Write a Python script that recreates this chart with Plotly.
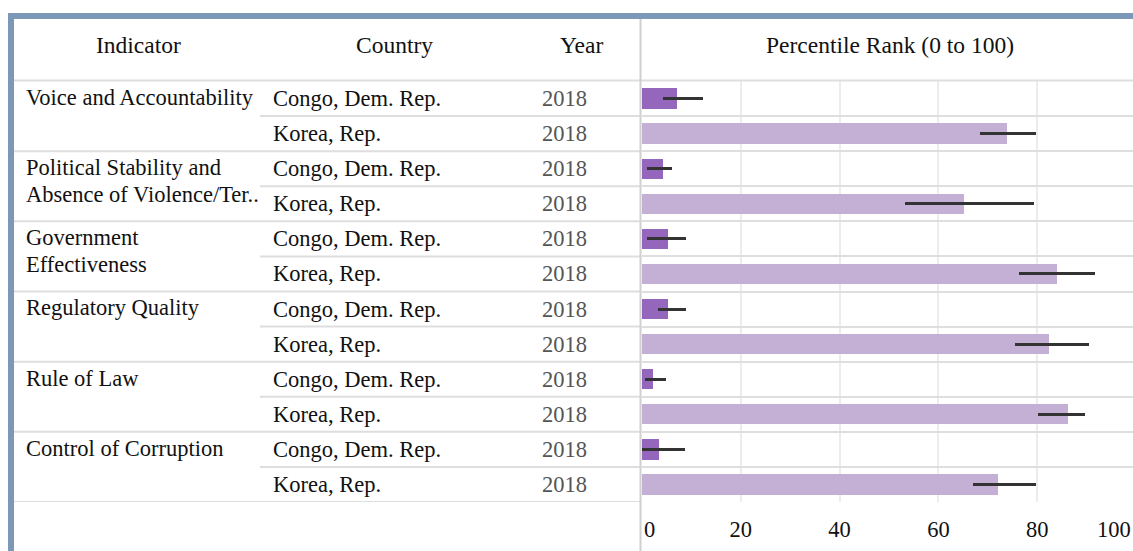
import plotly.graph_objects as go

W, H = 1133, 551

# ---------------- data ----------------
indicator_lines = [
    ["Voice and Accountability"],
    ["Political Stability and", "Absence of Violence/Ter.."],
    ["Government", "Effectiveness"],
    ["Regulatory Quality"],
    ["Rule of Law"],
    ["Control of Corruption"],
]
countries = ["Congo, Dem. Rep.", "Korea, Rep."]
year_label = "2018"

congo_rank = [7.0, 4.2, 5.2, 5.2, 2.3, 3.5]
congo_low = [4.2, 1.1, 1.1, 3.3, 0.7, 0.0]
congo_high = [12.3, 6.0, 9.0, 9.0, 4.8, 8.7]

korea_rank = [73.8, 65.2, 84.0, 82.3, 86.2, 72.0]
korea_low = [68.4, 53.2, 76.3, 75.6, 80.2, 67.1]
korea_high = [79.8, 79.4, 91.8, 90.4, 89.7, 79.8]

x_ticks = [20, 40, 60, 80]
headers = ["Indicator", "Country", "Year", "Percentile Rank (0 to 100)"]

# ---------------- styling ----------------
FONT = "Liberation Serif"
FS = 22.5
FS_H = 23.5
C_CONGO = "#9467bd"
C_KOREA = "#c5b0d5"
LINE_C = "#dedede"
BORDER_C = "#7d97b9"


def px(x):
    return x / W


def py(y):
    return 1 - y / H


# build rows
rows_y, vals, plus, minus, colors, row_country = [], [], [], [], [], []
for g in range(len(indicator_lines)):
    for c, (r, lo, hi, col) in enumerate([
        (congo_rank[g], congo_low[g], congo_high[g], C_CONGO),
        (korea_rank[g], korea_low[g], korea_high[g], C_KOREA),
    ]):
        rows_y.append(2 * g + c)
        vals.append(r)
        plus.append(hi - r)
        minus.append(r - lo)
        colors.append(col)
        row_country.append(countries[c])
n_rows = len(rows_y)

fig = go.Figure()
fig.add_trace(go.Bar(
    orientation="h",
    x=vals,
    y=rows_y,
    width=0.58,
    marker=dict(color=colors, line=dict(width=0)),
    error_x=dict(type="data", symmetric=False, array=plus, arrayminus=minus,
                 color="#333333", thickness=3, width=0),
    hoverinfo="x",
))

shapes = []
# borders
shapes.append(dict(type="rect", xref="paper", yref="paper", x0=px(8), x1=1, y0=py(19), y1=py(13),
                   fillcolor=BORDER_C, line=dict(width=0), layer="above"))
shapes.append(dict(type="rect", xref="paper", yref="paper", x0=px(8), x1=px(14), y0=0, y1=py(13),
                   fillcolor=BORDER_C, line=dict(width=0), layer="above"))
# header bottom line
shapes.append(dict(type="line", xref="paper", yref="paper", x0=px(14), x1=1, y0=py(80.5), y1=py(80.5),
                   line=dict(color=LINE_C, width=2)))
# group lines & sub-row lines in table area
for g in range(1, len(indicator_lines) + 1):
    yb = 2 * g - 0.5
    shapes.append(dict(type="line", xref="paper", yref="y", x0=px(14), x1=px(640), y0=yb, y1=yb,
                       line=dict(color=LINE_C, width=2)))
for g in range(len(indicator_lines)):
    yb = 2 * g + 0.5
    shapes.append(dict(type="line", xref="paper", yref="y", x0=px(260), x1=px(640), y0=yb, y1=yb,
                       line=dict(color=LINE_C, width=2)))
# vertical separator
shapes.append(dict(type="line", xref="paper", yref="paper", x0=px(640.5), x1=px(640.5), y0=0, y1=py(19),
                   line=dict(color="#d0d0d0", width=2)))

ann = []
# headers
for text, cx in zip(headers, [138, 394, 581, 890]):
    ann.append(dict(text=text, xref="paper", yref="paper", x=px(cx), y=py(45), xanchor="center",
                    yanchor="middle", showarrow=False, font=dict(family=FONT, size=FS_H, color="#111")))
# indicator labels
for g, lines in enumerate(indicator_lines):
    for j, line in enumerate(lines):
        ann.append(dict(text=line, xref="paper", yref="y", x=px(24), y=2 * g + j * 0.76 - 0.03,
                        xanchor="left", yanchor="middle", showarrow=False,
                        font=dict(family=FONT, size=FS, color="#111")))
# country and year
for yv, cname in zip(rows_y, row_country):
    ann.append(dict(text=cname, xref="paper", yref="y", x=px(271), y=yv, xanchor="left",
                    yanchor="middle", showarrow=False, font=dict(family=FONT, size=FS, color="#111")))
    ann.append(dict(text=year_label, xref="paper", yref="y", x=px(564), y=yv, xanchor="center",
                    yanchor="middle", showarrow=False, font=dict(family=FONT, size=FS, color="#555")))
# end tick labels
ann.append(dict(text="0", xref="x", yref="paper", x=0, y=py(529), xanchor="left", yanchor="middle",
                showarrow=False, font=dict(family=FONT, size=FS, color="#111")))
ann.append(dict(text="100", xref="paper", yref="paper", x=1, y=py(529), xanchor="right", yanchor="middle",
                showarrow=False, font=dict(family=FONT, size=FS, color="#111")))

fig.update_layout(
    width=W, height=H,
    margin=dict(l=0, r=0, t=0, b=0),
    paper_bgcolor="white", plot_bgcolor="white",
    showlegend=False,
    bargap=0,
    shapes=shapes,
    annotations=ann,
    xaxis=dict(domain=[px(642), 1], range=[0, 99.4], tickvals=x_ticks,
               showgrid=True, gridcolor="#ececec", gridwidth=1.5, zeroline=False, showline=False,
               ticks="outside", ticklen=7, tickcolor="rgba(0,0,0,0)",
               tickfont=dict(family=FONT, size=FS, color="#111"), fixedrange=True),
    yaxis=dict(domain=[py(502), py(81)], range=[n_rows - 0.5, -0.5],
               tickvals=[i + 0.5 for i in range(-1, n_rows)], showticklabels=False,
               showgrid=True, gridcolor=LINE_C, gridwidth=2, zeroline=False, showline=False,
               fixedrange=True),
)

fig.write_html("out.html")
